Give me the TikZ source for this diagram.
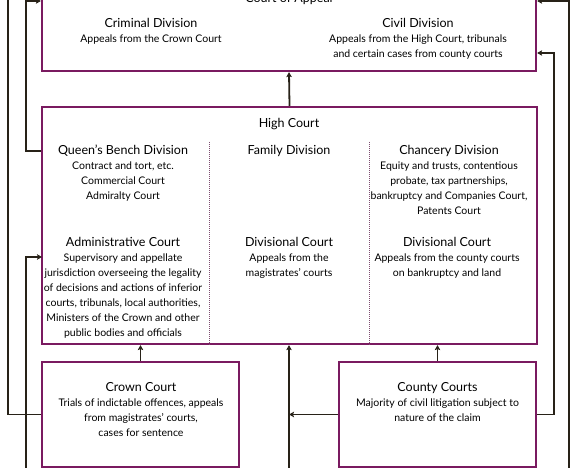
\documentclass[tikz,border=0pt]{standalone}
\usepackage{fontspec}
\setmainfont{Lato}
\usepackage{xcolor}
\usetikzlibrary{arrows.meta}
\definecolor{courtpurple}{RGB}{122,26,96}
\definecolor{linkdark}{RGB}{40,34,24}
\newcommand{\courtlines}[1]{\begin{tabular}[t]{@{}c@{}}#1\end{tabular}}
\tikzstyle{court} = [rectangle, draw=courtpurple, line width=2.2pt, fill=white, inner sep=0pt]
\tikzstyle{heading} = [font=\fontsize{12.5}{15}\selectfont, inner sep=0pt, anchor=base]
\tikzstyle{info} = [font=\fontsize{10.5}{15}\selectfont, inner sep=0pt, anchor=base]
\tikzstyle{divider} = [courtpurple!50!gray, line width=1pt, dash pattern=on 1pt off 1pt]
\tikzstyle{plain} = [linkdark, line width=1.8pt]
\tikzstyle{link} = [plain, -{Stealth[length=5pt,width=5.5pt,inset=1pt]}]

\begin{document}
\begin{tikzpicture}[x=1pt, y=-1pt]
    \path[use as bounding box, clip] (0,0) rectangle (576,468);

    \node (coa) [court, minimum width=494pt, minimum height=91pt] at (289,25.5) {};
    \node (hc) [court, minimum width=495pt, minimum height=237pt] at (289.5,225.5) {};
    \node (crown) [court, minimum width=197pt, minimum height=105pt] at (140.5,414.5) {};
    \node (county) [court, minimum width=197pt, minimum height=105pt] at (437.5,414.5) {};

    \node (coahead) [heading] at (289,3) {Court of Appeal};
    \node (crimhead) [heading] at (151,28) {Criminal Division};
    \node (crimbody) [info] at (151,42.5) {\courtlines{Appeals from the Crown Court}};
    \node (civhead) [heading] at (418,28) {Civil Division};
    \node (civbody) [info] at (418,42.5) {\courtlines{Appeals from the High Court, tribunals\\and certain cases from county courts}};

    \node (hchead) [heading] at (289,128) {High Court};
    \node (qbhead) [heading] at (123,155) {Queen's Bench Division};
    \node (qbbody) [info] at (123,169.5) {\courtlines{Contract and tort, etc.\\Commercial Court\\Admiralty Court}};
    \node (famhead) [heading] at (289,155) {Family Division};
    \node (chhead) [heading] at (449,155) {Chancery Division};
    \node (chbody) [info] at (449,169.5) {\courtlines{Equity and trusts, contentious\\probate, tax partnerships,\\bankruptcy and Companies Court,\\Patents Court}};
    \node (adminhead) [heading] at (123,246) {Administrative Court};
    \node (adminbody) [info] at (123,261) {\courtlines{Supervisory and appellate\\jurisdiction overseeing the legality\\of decisions and actions of inferior\\courts, tribunals, local authorities,\\Ministers of the Crown and other\\public bodies and officials}};
    \node (famdivhead) [heading] at (289,246) {Divisional Court};
    \node (famdivbody) [info] at (289,261) {\courtlines{Appeals from the\\magistrates' courts}};
    \node (chdivhead) [heading] at (447,246) {Divisional Court};
    \node (chdivbody) [info] at (447,261) {\courtlines{Appeals from the county courts\\on bankruptcy and land}};

    \node (crownhead) [heading] at (141,391.5) {Crown Court};
    \node (crownbody) [info] at (141,406) {\courtlines{Trials of indictable offences, appeals\\from magistrates' courts,\\cases for sentence}};
    \node (countyhead) [heading] at (437.5,391.5) {County Courts};
    \node (countybody) [info] at (437.5,406) {\courtlines{Majority of civil litigation subject to\\nature of the claim}};

    \coordinate (divA) at (209,142);
    \coordinate (divB) at (369,142);
    \coordinate (lowin) at (289,470);
    \coordinate (railA) at (8,-5);
    \coordinate (railB) at (26,1);
    \coordinate (railC) at (26,470);
    \coordinate (railD) at (554,53);
    \coordinate (railE) at (569,470);
    \coordinate (railF) at (569,1);
    \coordinate (adminin) at (42,257);

    \draw [divider] (divA) -- (divA |- hc.south);
    \draw [divider] (divB) -- (divB |- hc.south);

    \draw [link] (hc.north) -- (coa.south);
    \draw [link] (crown.north) -- (crown.north |- hc.south);
    \draw [link] (county.north) -- (county.north |- hc.south);
    \draw [link] (lowin) -- (lowin |- hc.south);
    \draw [link] (county.west) -- (lowin |- county.west);
    \draw [plain] (crown.west) -| (railA);
    \draw [link] (hc.west |- qbhead) -| (railB) -- (coa.west |- railB);
    \draw [link] (railC) |- (adminin);
    \draw [link] (county.east) -| (railD) -- (coa.east |- railD);
    \draw [link] (railE) -- (railF) -- (coa.east |- railF);
\end{tikzpicture}
\end{document}
